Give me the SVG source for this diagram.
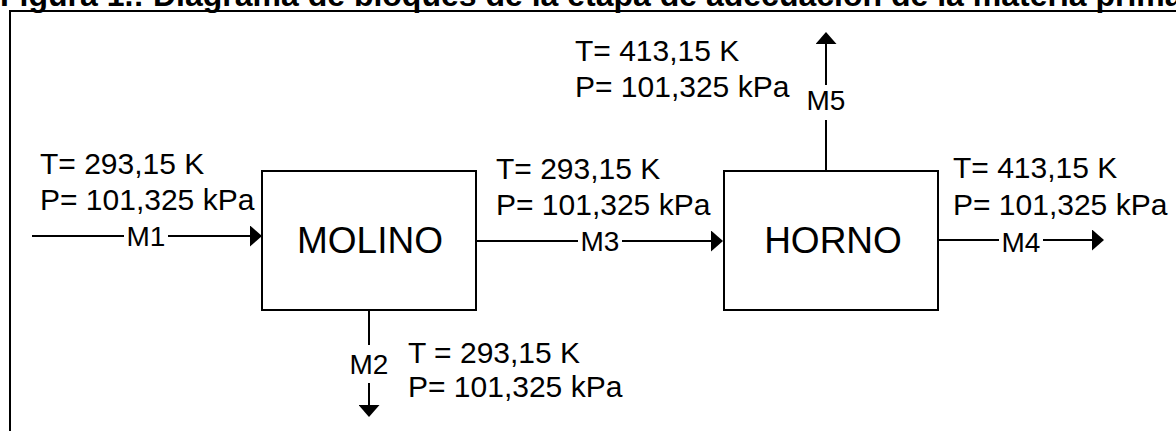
<svg xmlns="http://www.w3.org/2000/svg" width="1176" height="431" viewBox="0 0 1176 431">
<defs>
<style>
.t{font-family:"Liberation Sans",Arial,sans-serif;fill:#000}
.title{font-size:32px;font-weight:bold}
.lbl{font-size:30px}
.m{font-size:28px;text-anchor:middle}
.big{font-size:37px;text-anchor:middle}
.box{fill:#fff;stroke:#000;stroke-width:2}
.ln{fill:none;stroke:#000;stroke-width:2}
.bg{fill:#fff}
</style>
<marker id="ah" viewBox="0 0 12 21" refX="8" refY="10.5" markerWidth="12" markerHeight="21" markerUnits="userSpaceOnUse" orient="auto">
<path d="M0,0 L12,10.5 L0,21 Z" fill="#000"/>
</marker>
</defs>
<rect width="1176" height="431" fill="#fff"/>
<text class="t title" x="0" y="6">Figura 1.: Diagrama de bloques de la etapa de adecuación de la materia prima</text>
<rect x="10" y="11" width="1200" height="500" fill="none" stroke="#000" stroke-width="2"/>

<g id="connectors">
<path class="ln" d="M32,236 H258" marker-end="url(#ah)"/>
<path class="ln" d="M476,241 H719" marker-end="url(#ah)"/>
<path class="ln" d="M938,240 H1100" marker-end="url(#ah)"/>
<path class="ln" d="M369,310 V413" marker-end="url(#ah)"/>
<path class="ln" d="M826,171 V36" marker-end="url(#ah)"/>
<rect class="bg" x="124" y="224" width="44" height="24"/>
<text class="t m" x="146" y="246">M1</text>
<rect class="bg" x="578" y="229" width="44" height="24"/>
<text class="t m" x="600" y="251">M3</text>
<rect class="bg" x="999" y="228" width="44" height="24"/>
<text class="t m" x="1021" y="252">M4</text>
<rect class="bg" x="347" y="345" width="44" height="38"/>
<text class="t m" x="369" y="374">M2</text>
<rect class="bg" x="804" y="85" width="44" height="35"/>
<text class="t m" x="826" y="110">M5</text>
</g>

<g id="molino">
<rect class="box" x="262" y="171" width="214" height="139"/>
<text class="t big" x="370" y="253">MOLINO</text>
</g>
<g id="horno">
<rect class="box" x="724" y="171" width="214" height="139"/>
<text class="t big" x="833" y="253">HORNO</text>
</g>

<g id="label-m1">
<text class="t lbl" x="40" y="174">T= 293,15 K</text>
<text class="t lbl" x="40" y="210">P= 101,325 kPa</text>
</g>
<g id="label-m3">
<text class="t lbl" x="496" y="179">T= 293,15 K</text>
<text class="t lbl" x="496" y="215">P= 101,325 kPa</text>
</g>
<g id="label-m4">
<text class="t lbl" x="953" y="178">T= 413,15 K</text>
<text class="t lbl" x="953" y="215">P= 101,325 kPa</text>
</g>
<g id="label-m2">
<text class="t lbl" x="408" y="363">T = 293,15 K</text>
<text class="t lbl" x="408" y="397">P= 101,325 kPa</text>
</g>
<g id="label-m5">
<text class="t lbl" x="575" y="61">T= 413,15 K</text>
<text class="t lbl" x="575" y="97">P= 101,325 kPa</text>
</g>
</svg>
